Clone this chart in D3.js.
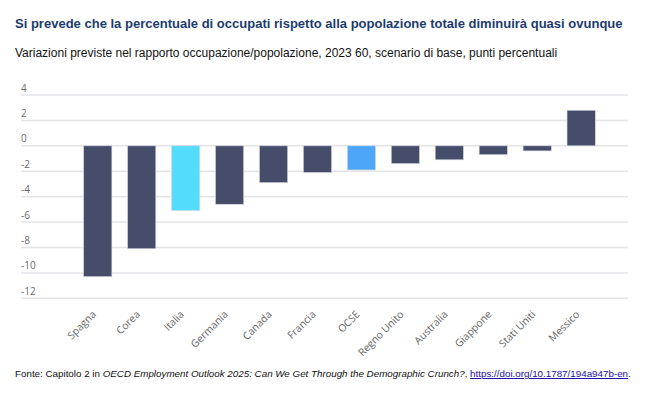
<!DOCTYPE html>
<html>
<head>
<meta charset="utf-8">
<script src="https://cdn.jsdelivr.net/npm/d3@7"></script>
<style>
  body { margin: 0; background: #fff; }
  svg { display: block; }
</style>
</head>
<body>
<svg></svg>
<script>
const countries = ['Spagna', 'Corea', 'Italia', 'Germania', 'Canada', 'Francia', 'OCSE',
  'Regno Unito', 'Australia', 'Giappone', 'Stati Uniti', 'Messico'];
const changes = [-10.3, -8.1, -5.1, -4.6, -2.9, -2.1, -1.9, -1.4, -1.1, -0.7, -0.4, 2.8];
const yTicks = [4, 2, 0, -2, -4, -6, -8, -10, -12];
const highlight = { 'Italia': '#53dcfb', 'OCSE': '#4ea6f8' };

const width = 655;
const height = 396;

const svg = d3.select('svg')
  .attr('width', width)
  .attr('height', height);

const x = d3.scaleBand()
  .domain(countries)
  .range([75.7, 603.2])
  .paddingInner(0.357)
  .paddingOuter(0.18);

const y = d3.scaleLinear()
  .domain([-12, 4])
  .range([298.3, 95]);

// gridlines + tick labels
const grid = svg.append('g')
  .selectAll('g')
  .data(yTicks)
  .enter().append('g')
  .attr('transform', d => `translate(0, ${y(d)})`);

grid.append('line')
  .attr('x1', 21)
  .attr('x2', 628)
  .attr('stroke', '#e3e4e8')
  .attr('stroke-width', 1.5);

grid.append('text')
  .attr('x', 21)
  .attr('y', -3.5)
  .attr('font-family', 'Open Sans')
  .attr('font-size', 10)
  .attr('fill', '#6b6b6b')
  .text(d => d);

// bars
svg.append('g')
  .selectAll('rect')
  .data(countries)
  .enter().append('rect')
  .attr('x', d => x(d))
  .attr('width', x.bandwidth())
  .attr('y', (d, i) => y(Math.max(0, changes[i])))
  .attr('height', (d, i) => Math.abs(y(changes[i]) - y(0)))
  .attr('fill', d => highlight[d] || '#454d6b')
  .attr('stroke', '#d8dae2')
  .attr('stroke-width', 0.6);

// category labels
svg.append('g')
  .selectAll('text')
  .data(countries)
  .enter().append('text')
  .attr('transform', d => `translate(${x(d) + x.bandwidth() / 2 - 1}, 315) rotate(-45)`)
  .attr('text-anchor', 'end')
  .attr('font-family', 'Open Sans')
  .attr('font-size', 10.3)
  .attr('fill', '#646464')
  .text(d => d);

// shrink font size until the text spans the wanted width
function fit(sel, target) {
  const size = +sel.attr('font-size');
  const w = sel.node().getComputedTextLength();
  if (w > 0) sel.attr('font-size', (size * target / w).toFixed(2));
}

const narrow = 'Liberation Sans Narrow, Arial Narrow, Liberation Sans';

const title = svg.append('text')
  .attr('x', 15)
  .attr('y', 28)
  .attr('font-family', narrow)
  .attr('font-weight', 'bold')
  .attr('font-size', 15)
  .attr('fill', '#1d3c6e')
  .text('Si prevede che la percentuale di occupati rispetto alla popolazione totale diminuirà quasi ovunque');
fit(title, 608);

const sub = svg.append('text')
  .attr('x', 15)
  .attr('y', 57)
  .attr('font-family', narrow)
  .attr('font-size', 13)
  .attr('fill', '#111')
  .text('Variazioni previste nel rapporto occupazione/popolazione, 2023 60, scenario di base, punti percentuali');
fit(sub, 542);

// source
const src = svg.append('text')
  .attr('x', 15)
  .attr('y', 377)
  .attr('font-family', narrow)
  .attr('font-size', 11)
  .attr('fill', '#111');

src.append('tspan').text('Fonte: Capitolo 2 in ');
src.append('tspan').attr('font-style', 'italic')
  .text('OECD Employment Outlook 2025: Can We Get Through the Demographic Crunch?');
src.append('tspan').text(', ');
src.append('tspan').attr('fill', '#1a0dab').attr('text-decoration', 'underline')
  .text('https://doi.org/10.1787/194a947b-en');
src.append('tspan').text('.');
fit(src, 616);
</script>
</body>
</html>
